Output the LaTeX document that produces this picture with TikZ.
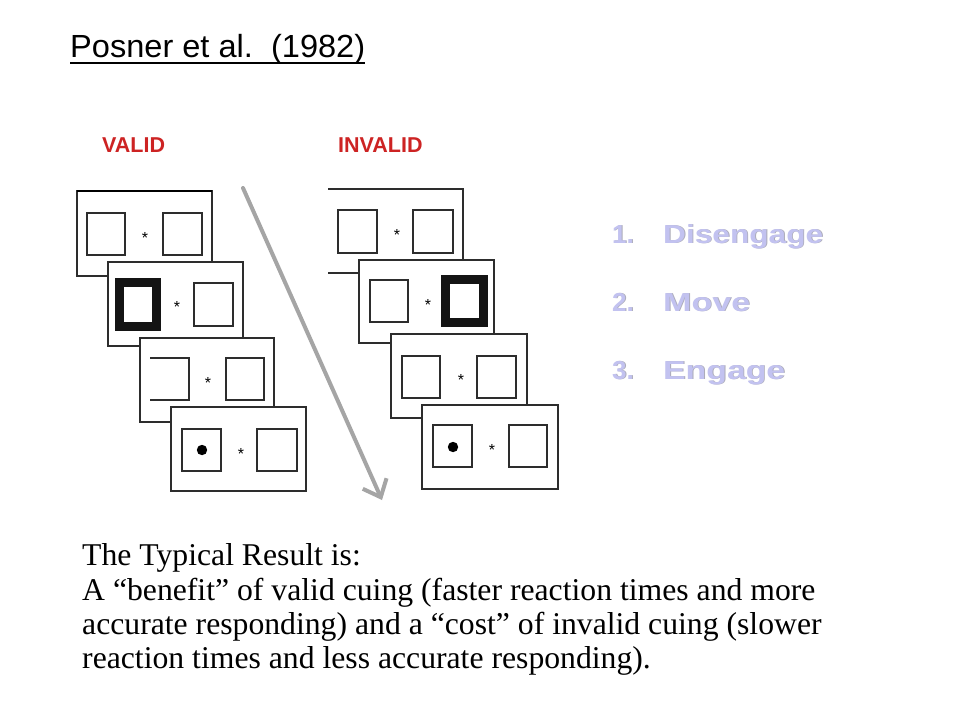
\documentclass[tikz,border=0pt]{standalone}
\usepackage{fontspec}
\setmainfont{Liberation Serif}
\setsansfont{Liberation Sans}
\usetikzlibrary{arrows.meta}
\definecolor{cuered}{RGB}{205,35,35}
\definecolor{lav}{RGB}{194,194,240}
\definecolor{shade}{RGB}{172,172,185}
\definecolor{arrowgray}{RGB}{165,165,165}
\definecolor{framecol}{RGB}{45,45,45}
\begin{document}
\begin{tikzpicture}[x=1pt,y=-1pt,
  panel/.style={draw=framecol,fill=white,line width=1.4pt},
  cuebox/.style={draw=framecol,line width=1.4pt},
  thickbox/.style={draw=black!92,line width=8.5pt},
  ast/.style={font=\sffamily\fontsize{16}{16}\selectfont,anchor=base,inner sep=0pt,yshift=-9.3pt},
  lbl/.style={font=\sffamily\bfseries\fontsize{21.5}{21.5}\selectfont,text=cuered,anchor=base west,inner sep=0pt},
  steptxt/.style={font=\sffamily\bfseries\fontsize{26}{26}\selectfont,anchor=base west,inner sep=0pt},
  body/.style={font=\fontsize{31.7}{34}\selectfont,anchor=base west,inner sep=0pt}
]
\fill[white] (0,0) rectangle (960,720);
\useasboundingbox (0,0) rectangle (960,720);

% title
\node[font=\sffamily\fontsize{32}{32}\selectfont,anchor=base west,inner sep=0pt] (title) at (70,57)
  {\resizebox{295pt}{\height}{Posner et al.\ \ (1982)}};
\draw[line width=2pt] (70,63) -- (365,63);

% labels
\node[lbl] (valid) at (102,152) {VALID};
\node[lbl] (invalid) at (338,152) {INVALID};

% ---------- VALID column ----------
% panel 1
\fill[white] (77,191) rectangle (212,276);
\draw[panel] (77,191) rectangle (212,276);
\draw[line width=2.8pt] (77,191) -- (212,191);
\draw[cuebox] (87,213) rectangle (125,255);
\draw[cuebox] (163,213) rectangle (202,255);
\node[ast] (va1) at (145,234) {*};
% panel 2
\draw[panel] (108,262) rectangle (243,346);
\draw[thickbox] (119.5,282.5) rectangle (156.5,326.5);
\draw[cuebox] (194,283) rectangle (233,326);
\node[ast] (va2) at (177,303) {*};
% panel 3
\draw[panel] (140,338) rectangle (274,422);
\draw[cuebox] (150,358) -- (189,358) -- (189,400) -- (150,400);
\draw[cuebox] (226,358) rectangle (264,400);
\node[ast] (va3) at (208,379) {*};
% panel 4
\draw[panel] (171,407) rectangle (306,491);
\draw[cuebox] (182,429) rectangle (221,471);
\fill[black] (202,450) circle (5.2);
\draw[cuebox] (257,429) rectangle (297,471);
\node[ast] (va4) at (241,450) {*};

% ---------- INVALID column ----------
% panel 1 (no left edge)
\fill[white] (328,189) rectangle (463,273);
\draw[cuebox] (328,189) -- (463,189) -- (463,273) -- (328,273);
\draw[cuebox] (338,210) rectangle (377,253);
\draw[cuebox] (413,210) rectangle (453,253);
\node[ast] (ia1) at (397,231) {*};
% panel 2
\draw[panel] (359,260) rectangle (494,343);
\draw[cuebox] (370,280) rectangle (408,322);
\draw[thickbox] (445.5,279.5) rectangle (483.5,322.5);
\node[ast] (ia2) at (428,301) {*};
% panel 3
\draw[panel] (391,334) rectangle (527,418);
\draw[cuebox] (402,356) rectangle (440,398);
\draw[cuebox] (477,356) rectangle (516,398);
\node[ast] (ia3) at (461,376) {*};
% panel 4
\draw[panel] (422,405) rectangle (558,489);
\draw[cuebox] (433,425) rectangle (472,467);
\fill[black] (453,447) circle (5.2);
\draw[cuebox] (509,425) rectangle (547,467);
\node[ast] (ia4) at (492,446) {*};

% time arrow
\coordinate (arrS) at (243,188);
\coordinate (arrE) at (382,500);
\draw[arrowgray,line width=4pt,line cap=round,
  -{Straight Barb[length=15pt,width=26pt,line width=4pt]}] (arrS) -- (arrE);

% steps
\foreach \n/\w/\ww/\y in {1/Disengage/160/243, 2/Move/87/311, 3/Engage/122/379}{
  \node[steptxt,text=shade] at (612.9,\y+0.9) {\n.};
  \node[steptxt,text=lav] (num\n) at (612,\y) {\n.};
  \node[steptxt,text=shade] at (663.9,\y+0.9) {\resizebox{\ww pt}{\height}{\w}};
  \node[steptxt,text=lav] (word\n) at (663,\y) {\resizebox{\ww pt}{\height}{\w}};
}

% result text
\node[body] (t1) at (82,565) {The Typical Result is:};
\node[body] (t2) at (82,600) {A “benefit” of valid cuing (faster reaction times and more};
\node[body] (t3) at (82,634) {accurate responding) and a “cost” of invalid cuing (slower};
\node[body] (t4) at (82,668) {reaction times and less accurate responding).};
\end{tikzpicture}
\end{document}
